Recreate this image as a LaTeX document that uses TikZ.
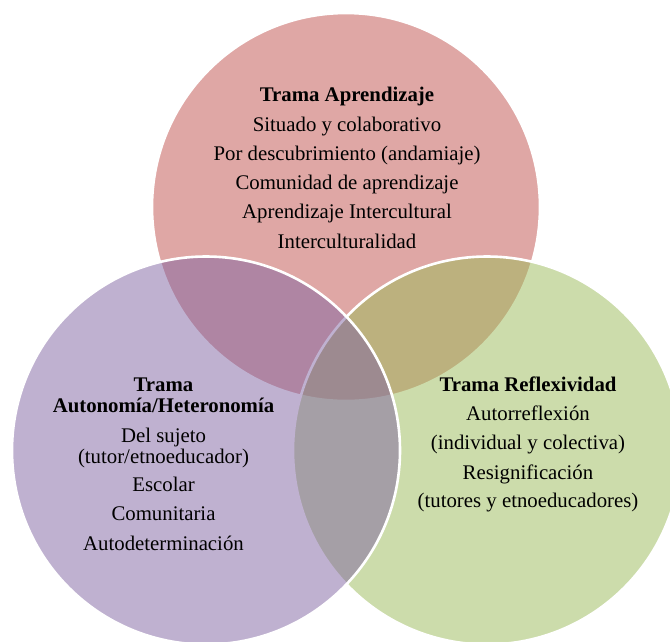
\documentclass[tikz,border=0pt]{standalone}
\usepackage{fontspec}
\setmainfont{Liberation Serif}
\definecolor{aprRed}{HTML}{C0504D}
\definecolor{autPurple}{HTML}{8064A2}
\definecolor{refGreen}{HTML}{9BBB59}
\tikzset{
  venn/.style={draw=white, line width=2.6pt, fill opacity=0.5},
  line/.style={anchor=base, inner sep=0pt, font=\fontsize{20.8}{24}\selectfont},
  head/.style={line, font=\fontsize{20.8}{24}\selectfont\bfseries}
}
\begin{document}
\begin{tikzpicture}[x=1pt, y=-1pt]
  \clip (0,0) rectangle (670,641);
  \fill[white] (0,0) rectangle (670,641);
  % three overlapping circles: top, right, then left on top
  \coordinate (cT) at (346,207);
  \coordinate (cR) at (487,450.5);
  \coordinate (cL) at (206,450.5);
  \path[venn, fill=aprRed]    (cT) circle[radius=194];
  \path[venn, fill=refGreen]  (cR) circle[radius=194];
  \path[venn, fill=autPurple] (cL) circle[radius=194];

  % Trama Aprendizaje
  \node[head] (t1) at (347,101.7) {Trama Aprendizaje};
  \node[line] (t2) at (347,131.2) {Situado y colaborativo};
  \node[line] (t3) at (347,160.4) {Por descubrimiento (andamiaje)};
  \node[line] (t4) at (347,189.6) {Comunidad de aprendizaje};
  \node[line] (t5) at (347,218.8) {Aprendizaje Intercultural};
  \node[line] (t6) at (347,248.0) {Interculturalidad};

  % Trama Autonomía/Heteronomía
  \node[head] (l1) at (163.5,391.7) {Trama};
  \node[head] (l2) at (163.5,412.7) {Autonomía/Heteronomía};
  \node[line] (l3) at (163.5,442.5) {Del sujeto};
  \node[line] (l4) at (163.5,463.0) {(tutor/etnoeducador)};
  \node[line] (l5) at (163.5,491.7) {Escolar};
  \node[line] (l6) at (163.5,520.7) {Comunitaria};
  \node[line] (l7) at (163.5,550.0) {Autodeterminación};

  % Trama Reflexividad
  \node[head] (r1) at (528,391.7) {Trama Reflexividad};
  \node[line] (r2) at (528,420.7) {Autorreflexión};
  \node[line] (r3) at (528,449.3) {(individual y colectiva)};
  \node[line] (r4) at (528,479.0) {Resignificación};
  \node[line] (r5) at (528,507.0) {(tutores y etnoeducadores)};
\end{tikzpicture}
\end{document}
